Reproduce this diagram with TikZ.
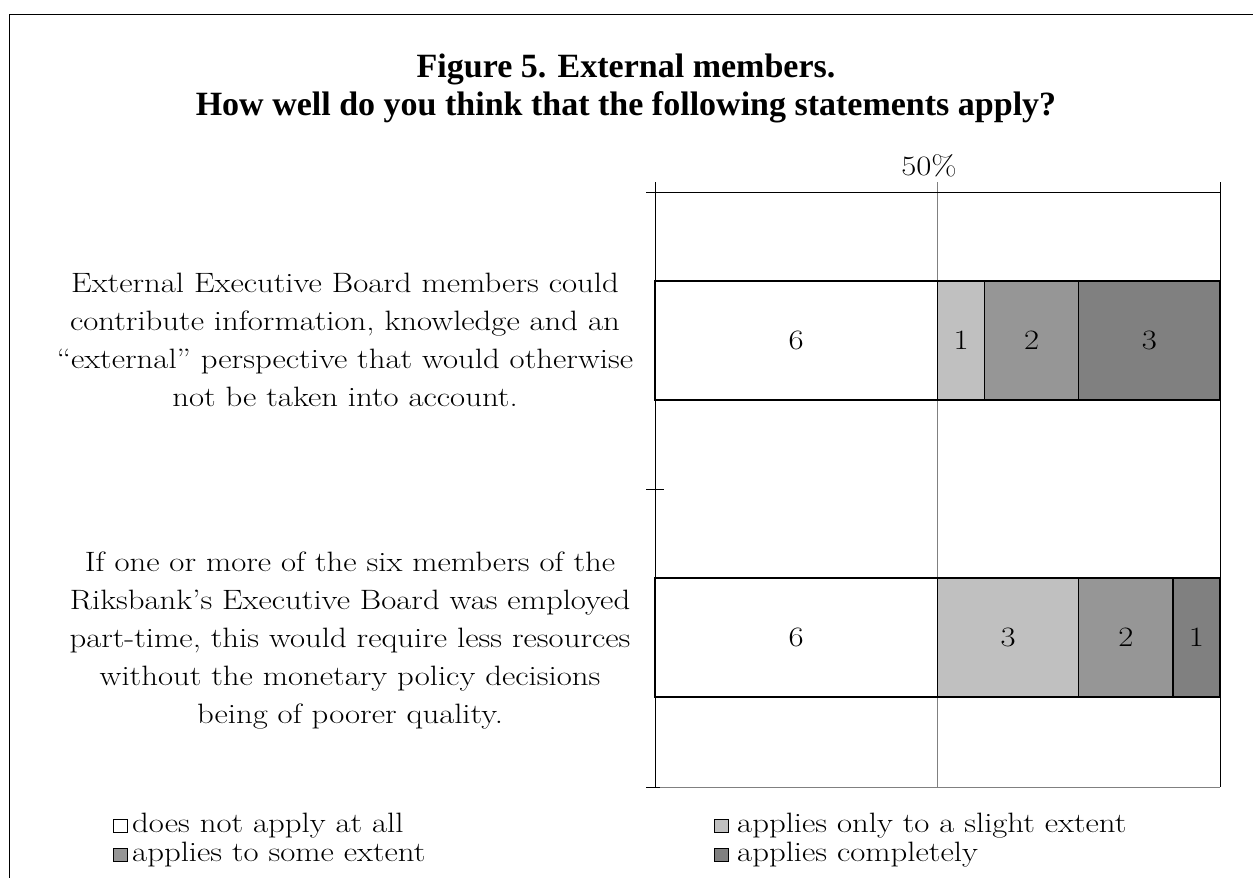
\documentclass[tikz,border=0pt]{standalone}
\usepackage{fontspec}
\newfontfamily\titlefont{Liberation Serif}
\definecolor{lightg}{HTML}{C0C0C0}
\definecolor{midg}{HTML}{969696}
\definecolor{darkg}{HTML}{808080}
\definecolor{axgray}{HTML}{808080}
\begin{document}
\begin{tikzpicture}[x=1pt,y=-1pt,
  txt/.style={inner sep=0pt, xscale=1.17, font=\fontsize{28}{38}\selectfont},
  seg/.style={draw=black, line width=1.3pt, inner sep=0pt, minimum height=119pt},
  num/.style={txt},
  lbl/.style={txt, align=center},
  leg/.style={txt, anchor=base west},
  legbox/.style={draw=black, line width=1pt, minimum width=14pt, minimum height=13pt, inner sep=0pt},
  ttl/.style={inner sep=0pt, anchor=base, font=\titlefont\bfseries\fontsize{34}{40}\selectfont},
  axis/.style={black, line width=1pt},
  grid50/.style={axgray, line width=1pt}]
\useasboundingbox (0,0) rectangle (1253,878);
\fill[white] (0,0) rectangle (1253,878);
% outer frame
\draw[line width=1.5pt] (9.5,878) -- (9.5,14.5) -- (1253,14.5);
% title
\node[ttl] (t1) at (626,77) {Figure 5. External members.};
\node[ttl] (t2) at (626,115) {How well do you think that the following statements apply?};
% axis frame coordinates
\coordinate (tl) at (655,192);
\coordinate (tr) at (1220,192);
\coordinate (bl) at (655,787);
\coordinate (br) at (1220,787);
\coordinate (mtop) at (937.5,182);
\coordinate (mbot) at (937.5,787);
\node[txt, anchor=base] (p50) at (929,175) {50\%};
\draw[grid50] (mtop) -- (mbot);
\draw[grid50] (br) -- (bl);
\draw[axis] (1220,182) -- (br);
\draw[axis] (655,182) -- (bl);
\draw[axis] (646,192) -- (tr);
\draw[axis] (646,489.5) -- (664,489.5);
\draw[axis] (646,787) -- (660,787);
% bar 1
\node[seg, fill=white, minimum width=282.5pt] (a1) at (796.25,340.5) {};
\node[seg, fill=lightg, minimum width=47.08pt] (a2) at (961.04,340.5) {};
\node[seg, fill=midg, minimum width=94.17pt] (a3) at (1031.67,340.5) {};
\node[seg, fill=darkg, minimum width=141.25pt] (a4) at (1149.375,340.5) {};
\node[num] (n1) at (a1) {6};
\node[num] (n2) at (a2) {1};
\node[num] (n3) at (a3) {2};
\node[num] (n4) at (a4) {3};
% bar 2
\node[seg, fill=white, minimum width=282.5pt] (b1) at (796.25,637.5) {};
\node[seg, fill=lightg, minimum width=141.25pt] (b2) at (1008.125,637.5) {};
\node[seg, fill=midg, minimum width=94.17pt] (b3) at (1125.83,637.5) {};
\node[seg, fill=darkg, minimum width=47.08pt] (b4) at (1196.46,637.5) {};
\node[num] (m1) at (b1) {6};
\node[num] (m2) at (b2) {3};
\node[num] (m3) at (b3) {2};
\node[num] (m4) at (b4) {1};
% category labels
\node[lbl] (q1) at (345,340.3) {External Executive Board members could\\contribute information, knowledge and an\\“external” perspective that would otherwise\\not be taken into account.};
\node[lbl] (q2) at (350,640.9) {If one or more of the six members of the\\Riksbank’s Executive Board was employed\\part-time, this would require less resources\\without the monetary policy decisions\\being of poorer quality.};
% legend
\node[legbox, fill=white] (k1) at (120,825.5) {};
\node[leg] (l1) at (132,832) {does not apply at all};
\node[legbox, fill=lightg] (k2) at (721,825.5) {};
\node[leg] (l2) at (737,832) {applies only to a slight extent};
\node[legbox, fill=midg] (k3) at (120,854.5) {};
\node[leg] (l3) at (132,861) {applies to some extent};
\node[legbox, fill=darkg] (k4) at (721,854.5) {};
\node[leg] (l4) at (737,861) {applies completely};
\end{tikzpicture}
\end{document}
